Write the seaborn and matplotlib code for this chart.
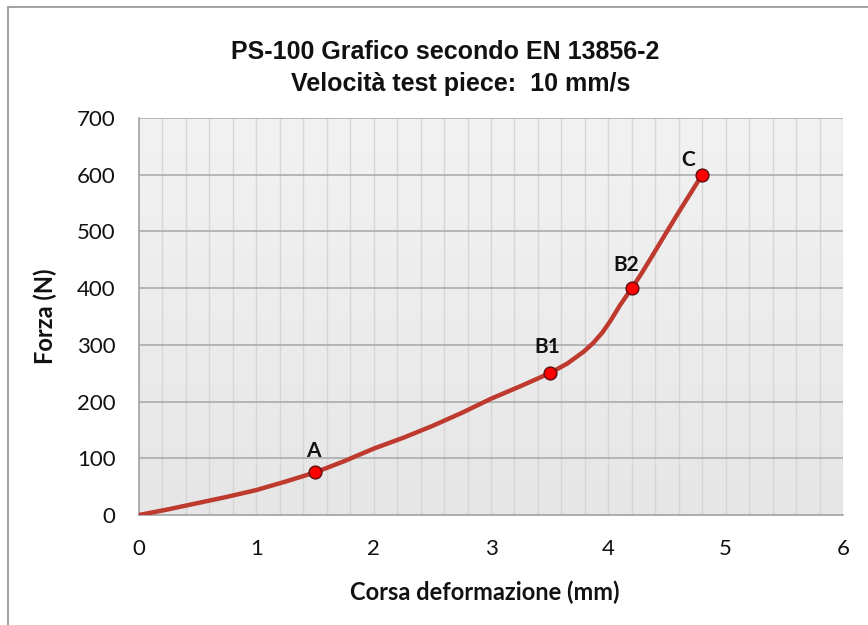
import numpy as np
import pandas as pd
import matplotlib
matplotlib.use("Agg")
import matplotlib.pyplot as plt
import seaborn as sns
from matplotlib.patches import Rectangle
from matplotlib.colors import LinearSegmentedColormap

# ---- data ----
corsa = [0.0, 0.25, 0.5, 0.75, 1.0, 1.25, 1.5, 1.75, 2.0, 2.25, 2.5, 2.75,
         3.0, 3.25, 3.5, 3.65, 3.79, 3.87, 3.95, 4.02, 4.1, 4.2, 4.28,
         4.36, 4.43, 4.5, 4.6, 4.7, 4.8]
forza = [0, 10, 21, 32, 44, 59, 75, 95, 117, 136, 157, 180,
         205, 227, 250, 267, 288, 303, 322, 343, 370, 400, 425,
         452, 476, 500, 534, 567, 600]

point_names = ["A", "B1", "B2", "C"]
point_x = [1.5, 3.5, 4.2, 4.8]
point_y = [75, 250, 400, 600]

x_ticks = [0, 1, 2, 3, 4, 5, 6]
y_ticks = [0, 100, 200, 300, 400, 500, 600, 700]

title_1 = "PS-100 Grafico secondo EN 13856-2"
title_2 = "Velocità test piece:  10 mm/s"
x_label = "Corsa deformazione (mm)"
y_label = "Forza (N)"

sns.set_theme(style="white")
plt.rcParams["font.family"] = ["Lato", "DejaVu Sans"]

fig = plt.figure(figsize=(8.68, 6.25), dpi=100)
fig.patch.set_facecolor("white")
# outer chart frame
fig.patches.append(Rectangle((8 / 868, -0.05), 1.2, 1 - 7 / 625 + 0.05,
                             transform=fig.transFigure, fill=False,
                             edgecolor="#9a9a9a", linewidth=1.3))

ax = fig.add_axes([139 / 868, 1 - 515 / 625, (843 - 139) / 868, (515 - 118) / 625])

# gradient plot background
grad = np.linspace(0, 1, 256).reshape(-1, 1)
cmap = LinearSegmentedColormap.from_list("bg", ["#e6e6e6", "#f2f2f2"])
ax.imshow(grad, extent=[0, 6, 0, 700], origin="lower", aspect="auto",
          cmap=cmap, zorder=0)

df = pd.DataFrame({"corsa": corsa, "forza": forza})
sns.lineplot(data=df, x="corsa", y="forza", ax=ax, color="#be3a2e",
             linewidth=3.2, zorder=3, sort=False)
ax.lines[-1].set_solid_joinstyle("round")

pts = pd.DataFrame({"x": point_x, "y": point_y, "name": point_names})
sns.scatterplot(data=pts, x="x", y="y", ax=ax, color="#ff0000",
                edgecolor="#5a1010", linewidth=1.0, s=85, zorder=4)

offsets = {"A": (-1.5, 8.6), "B1": (-1.5, 11.5), "B2": (-4.3, 9.4), "C": (-10, 3.6)}
for n, xv, yv in zip(point_names, point_x, point_y):
    ax.annotate(n, (xv, yv), xytext=offsets[n], textcoords="offset points",
                ha="center", va="bottom", fontsize=15, fontweight="bold",
                color="#111111", zorder=5)

ax.set_xlim(0, 6)
ax.set_ylim(0, 700)
ax.set_xticks(x_ticks)
ax.set_yticks(y_ticks)
ax.set_xticklabels([str(v) for v in x_ticks], fontsize=16)
ax.set_yticklabels([str(v) for v in y_ticks], fontsize=16)

ax.grid(False)
for v in np.arange(0.2, 6.01, 0.2):
    ax.axvline(v, color="#d6d6d6", linewidth=1.0, zorder=1)
for v in y_ticks[1:]:
    ax.axhline(v, color="#a6a6a6", linewidth=1.1, zorder=2)

for s in ["top", "right"]:
    ax.spines[s].set_visible(False)
for s in ["left", "bottom"]:
    ax.spines[s].set_color("#9a9a9a")
    ax.spines[s].set_linewidth(1.1)
    ax.spines[s].set_zorder(2)

ax.tick_params(axis="both", which="major", direction="out", length=5,
               width=1.1, color="#9a9a9a", labelcolor="#111111")
ax.tick_params(axis="x", which="minor", length=0, bottom=False)
ax.tick_params(axis="x", pad=12)
ax.tick_params(axis="y", pad=12)

ax.set_xlabel("")
ax.set_ylabel("")
fig.text(485 / 868, 1 - 592 / 625, x_label, ha="center", va="center",
         fontsize=17, fontweight="bold", color="#111111")
fig.text(45 / 868, 1 - 316 / 625, y_label, ha="center", va="center",
         rotation=90, fontsize=17, fontweight="bold", color="#111111")

title_font = ["Liberation Sans Narrow", "Liberation Sans", "DejaVu Sans"]
fig.text(445 / 868, 1 - 52 / 625, title_1, ha="center", va="center",
         fontsize=18, fontweight="bold", family=title_font, color="#111111")
fig.text(461 / 868, 1 - 84 / 625, title_2, ha="center", va="center",
         fontsize=18, fontweight="bold", family=title_font, color="#111111")

fig.savefig("out.png", dpi=100, facecolor="white")
